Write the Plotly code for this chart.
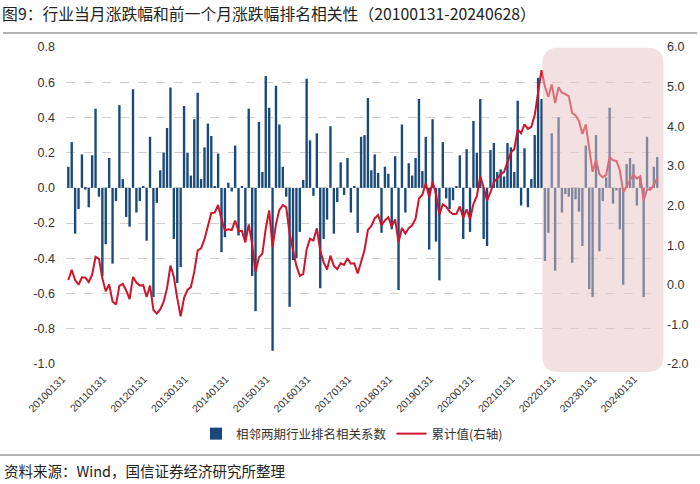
import plotly.graph_objects as go

# ---- data ----
tick_labels = ["20100131", "20110131", "20120131", "20130131", "20140131",
               "20150131", "20160131", "20170131", "20180131", "20190131",
               "20200131", "20210131", "20220131", "20230131", "20240131"]

corr = [
    0.12, 0.26, -0.26, -0.12, 0.19, -0.01, -0.11, 0.185, 0.45, -0.05, -0.50, -0.32,
    0.17, -0.43, -0.075, 0.47, 0.05, -0.165, -0.22, 0.56, -0.14, -0.075, 0.01, -0.30,
    0.29, -0.62, -0.085, 0.10, 0.20, 0.34, 0.57, -0.29, -0.54, -0.45, 0.465, 0.20,
    0.07, 0.39, 0.54, 0.05, 0.23, 0.365, 0.295, 0.01, 0.195, -0.365, -0.28, 0.03,
    -0.02, 0.24, -0.27, 0.01, -0.29, 0.45, -0.50, -0.70, 0.375, 0.09, 0.635, 0.455,
    -0.925, 0.58, 0.36, 0.12, -0.05, -0.675, -0.41, -0.40, -0.25, 0.045, 0.62, 0.27,
    -0.045, 0.31, -0.57, -0.29, -0.18, 0.35, -0.26, -0.08, 0.145, -0.04, 0.17, -0.14,
    0.01, -0.255, 0.29, 0.30, 0.51, 0.10, 0.19, 0.085, -0.255, 0.12, 0.08, -0.235,
    0.18, -0.58, 0.36, -0.14, 0.14, 0.07, 0.17, 0.505, 0.095, 0.29, -0.35, 0.39,
    -0.305, -0.525, 0.26, -0.06, -0.12, -0.07, 0.01, 0.185, -0.29, 0.22, -0.25, 0.38,
    0.20, 0.505, -0.29, -0.33, 0.215, 0.255, 0.09, 0.105, 0.065, 0.255, 0.23, 0.09,
    0.495, -0.10, 0.225, -0.11, 0.05, 0.30, 0.625, 0.505, -0.415, -0.255, 0.31, -0.47,
    0.40, -0.14, -0.035, -0.05, -0.425, -0.065, -0.135, -0.33, 0.24, -0.575, -0.62, 0.30,
    -0.36, -0.075, 0.06, 0.455, -0.09, -0.015, -0.235, -0.55, 0.135, 0.17, 0.135, -0.10,
    0.06, -0.62, 0.29, -0.01, 0.12, 0.175,
]

cum = [
    0.12, 0.38, 0.12, 0.00, 0.19, 0.18, 0.07, 0.255, 0.705, 0.655, 0.155, -0.165,
    0.005, -0.425, -0.50, -0.03, 0.02, -0.145, -0.365, 0.195, 0.055, -0.02, -0.01, -0.31,
    -0.02, -0.64, -0.725, -0.625, -0.425, -0.085, 0.485, 0.195, -0.345, -0.795, -0.33, -0.13,
    -0.06, 0.33, 0.87, 0.92, 1.15, 1.515, 1.81, 1.82, 2.015, 1.65, 1.37, 1.40,
    1.38, 1.62, 1.35, 1.36, 1.07, 1.52, 1.02, 0.32, 0.695, 0.785, 1.42, 1.875,
    0.95, 1.53, 1.89, 2.01, 1.96, 1.285, 0.875, 0.475, 0.225, 0.27, 0.89, 1.16,
    1.115, 1.425, 0.855, 0.565, 0.385, 0.735, 0.475, 0.395, 0.54, 0.50, 0.67, 0.53,
    0.54, 0.285, 0.575, 0.875, 1.385, 1.485, 1.675, 1.76, 1.505, 1.625, 1.705, 1.47,
    1.65, 1.07, 1.43, 1.29, 1.43, 1.50, 1.67, 2.175, 2.27, 2.56, 2.21, 2.60,
    2.295, 1.77, 2.03, 1.97, 1.85, 1.78, 1.79, 1.975, 1.685, 1.905, 1.655, 2.035,
    2.235, 2.74, 2.45, 2.12, 2.335, 2.59, 2.68, 2.785, 2.85, 3.105, 3.335, 3.425,
    3.92, 3.82, 4.045, 3.935, 3.985, 4.285, 4.91, 5.415, 5.00, 4.745, 5.055, 4.585,
    4.985, 4.845, 4.81, 4.76, 4.335, 4.27, 4.135, 3.805, 4.045, 3.47, 2.85, 3.15,
    2.79, 2.715, 2.775, 3.23, 3.14, 3.125, 2.89, 2.34, 2.475, 2.645, 2.78, 2.68,
    2.74, 2.12, 2.41, 2.40, 2.52, 2.695,
]

shade_start = 139.25   # month index where the highlighted period starts
shade_end = 174.8

# ---- figure ----
x = list(range(len(corr)))
tickvals = [i * 12 for i in range(len(tick_labels))]
xr = [-0.68, 173.8]

BLUE = "#1a4a7a"
RED = "#d0142c"
FONT = 'Arial, "Liberation Sans", sans-serif'
CJK = '"Noto Sans CJK SC", sans-serif'

fig = go.Figure()
fig.add_trace(go.Bar(x=x, y=corr, width=0.7, marker=dict(color=BLUE, line=dict(width=0)),
                     name="相邻两期行业排名相关系数"))
fig.add_trace(go.Scatter(x=x, y=cum, mode="lines", line=dict(color=RED, width=2),
                         name="累计值(右轴)", yaxis="y2"))

def px_frac(v):
    return (v - xr[0]) / (xr[1] - xr[0])

# rounded highlight rectangle (paper coords derived from data range)
x0, x1 = px_frac(shade_start), px_frac(shade_end)
y0, y1 = -0.025, 0.998
rx, ry = 16 / 594, 16 / 317
path = (f"M {x0+rx},{y1} L {x1-rx},{y1} Q {x1},{y1} {x1},{y1-ry} "
        f"L {x1},{y0+ry} Q {x1},{y0} {x1-rx},{y0} L {x0+rx},{y0} "
        f"Q {x0},{y0} {x0},{y0+ry} L {x0},{y1-ry} Q {x0},{y1} {x0+rx},{y1} Z")
fig.add_shape(type="path", path=path, xref="paper", yref="paper",
              fillcolor="rgba(232,196,196,0.5)", line=dict(width=0), layer="above")

# header / footer rules
fig.add_shape(type="line", xref="paper", yref="paper",
              x0=(3 - 66) / 594, x1=(697 - 66) / 594, y0=(364 - 33) / 317, y1=(364 - 33) / 317,
              line=dict(color="#9a9a9a", width=1.5))
fig.add_shape(type="line", xref="paper", yref="paper",
              x0=(0 - 66) / 594, x1=(700 - 66) / 594, y0=(364 - 455) / 317, y1=(364 - 455) / 317,
              line=dict(color="#9a9a9a", width=1.5))

fig.add_annotation(text="资料来源：Wind，国信证券经济研究所整理", xref="paper", yref="paper",
                   x=(2 - 66) / 594, y=(364 - 470) / 317, xanchor="left", yanchor="middle",
                   showarrow=False, font=dict(family=CJK, size=14.5, color="#222"))

fig.update_layout(
    width=700, height=484,
    margin=dict(l=66, r=40, t=47, b=120),
    paper_bgcolor="white", plot_bgcolor="white",
    title=dict(text="图9：行业当月涨跌幅和前一个月涨跌幅排名相关性（20100131-20240628）",
               x=0.003, xanchor="left", xref="container",
               y=1 - 14 / 484, yanchor="middle", yref="container",
               font=dict(family=CJK, size=15.8, color="#222")),
    showlegend=True,
    legend=dict(orientation="h", x=(352 - 66) / 594, xanchor="center",
                y=(364 - 434) / 317, yanchor="middle",
                font=dict(family=CJK, size=12.5, color="#333"), itemwidth=30,
                bgcolor="rgba(0,0,0,0)"),
    xaxis=dict(range=xr, tickvals=tickvals, ticktext=tick_labels, tickangle=-45,
               showgrid=False, zeroline=False, showline=False, ticks="",
               ticklabelshift=-6, ticklabelstandoff=6,
               tickfont=dict(family=FONT, size=10.5, color="#333")),
    yaxis=dict(range=[-1.0, 0.8], tickvals=[-1.0 + 0.2 * i for i in range(10)],
               ticktext=[f"{-1.0 + 0.2 * i:.1f}" for i in range(10)],
               showgrid=True, gridcolor="#cfcfcf", griddash="dash", gridwidth=1,
               zeroline=False, showline=False, ticks="", ticklabelstandoff=10,
               tickfont=dict(family=FONT, size=12.5, color="#333")),
    yaxis2=dict(range=[-2, 6], overlaying="y", side="right",
                tickvals=list(range(-2, 7)), ticktext=[f"{v:.1f}" for v in range(-2, 7)],
                showgrid=False, zeroline=False, showline=False, ticks="", ticklabelstandoff=6,
                tickfont=dict(family=FONT, size=12.5, color="#333")),
    bargap=0.3,
)

fig.write_html("out.html")
